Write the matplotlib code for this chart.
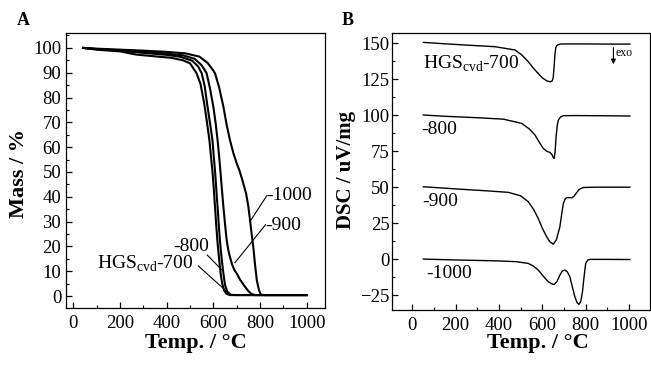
import matplotlib
matplotlib.use("Agg")
import matplotlib.pyplot as plt
from matplotlib.ticker import MultipleLocator

plt.rcParams['font.family'] = ['Liberation Serif', 'DejaVu Serif']
plt.rcParams['mathtext.fontset'] = 'custom'
plt.rcParams['mathtext.rm'] = 'Liberation Serif'

# ---- panel A: TGA mass loss ----
tga_700_x = [42, 100, 200, 270, 350, 420, 470, 500, 528, 545, 560, 572, 583, 590, 597, 602, 607, 612, 617, 624, 631, 638, 646, 655, 671, 700, 850, 1000]
tga_700_y = [100, 99.3, 98.6, 97.3, 96.6, 96.0, 95.0, 93.8, 89.8, 85.5, 78.0, 70.5, 62.9, 56.0, 49.4, 43.0, 36.0, 29.0, 22.6, 15.5, 9.1, 5.0, 2.4, 1.0, 0.4, 0.4, 0.4, 0.4]

tga_800_x = [42, 100, 200, 300, 400, 460, 510, 535, 550, 563, 575, 586, 596, 602, 608, 613, 618, 623, 628, 635, 643, 650, 660, 675, 700, 850, 1000]
tga_800_y = [100, 99.5, 98.9, 98.0, 97.2, 96.4, 94.8, 92.5, 89.8, 84.5, 76.3, 69.5, 62.9, 56.0, 49.4, 42.5, 36.0, 29.0, 22.6, 15.5, 9.1, 4.5, 1.7, 0.5, 0.4, 0.4, 0.4]

tga_900_x = [42, 100, 200, 300, 400, 470, 520, 550, 571, 586, 600, 610, 618, 625, 631, 637, 643, 650, 657, 664, 671, 680, 690, 700, 715, 736, 750, 764, 780, 850, 1000]
tga_900_y = [100, 99.5, 99.0, 98.4, 97.7, 97.0, 95.6, 93.0, 89.8, 83.5, 76.3, 69.5, 62.9, 56.0, 49.4, 42.5, 36.0, 29.0, 22.6, 18.5, 15.8, 12.8, 10.5, 9.1, 6.5, 3.7, 2.0, 0.8, 0.4, 0.4, 0.4]

tga_1000_x = [42, 100, 200, 300, 400, 480, 540, 575, 595, 607, 625, 643, 657, 671, 686, 700, 711, 724, 740, 750, 757, 764, 771, 778, 786, 795, 803, 820, 900, 1000]
tga_1000_y = [100, 99.7, 99.3, 98.9, 98.4, 97.8, 96.5, 94.0, 91.5, 89.8, 84.0, 76.3, 69.0, 62.9, 57.5, 53.5, 50.8, 46.8, 41.4, 36.0, 30.6, 25.0, 19.9, 13.0, 6.4, 2.5, 0.6, 0.4, 0.4, 0.4]

# ---- panel B: DSC ----
dsc_700_x = [51, 150, 250, 381, 474, 505, 535, 560, 581, 600, 620, 635, 645, 650, 654, 658, 662, 667, 671, 680, 700, 800, 900, 1004]
dsc_700_y = [150.7, 149.7, 148.8, 147.7, 145.4, 142.0, 137.3, 132.5, 129.1, 126.0, 124.0, 123.3, 123.8, 126.0, 133.0, 142.0, 147.0, 148.5, 148.8, 149.5, 149.6, 149.6, 149.5, 149.5]

dsc_800_x = [51, 150, 300, 420, 504, 540, 566, 585, 604, 620, 635, 645, 651, 655, 659, 664, 669, 674, 684, 697, 750, 850, 1004]
dsc_800_y = [100.2, 99.3, 98.3, 97.3, 94.4, 90.5, 86.3, 81.5, 77.0, 75.0, 74.2, 72.5, 70.5, 70.0, 75.0, 86.0, 93.0, 96.7, 98.8, 99.7, 99.8, 99.7, 99.5]

dsc_900_x = [51, 200, 350, 443, 500, 535, 560, 581, 600, 620, 635, 651, 665, 681, 690, 697, 705, 712, 722, 735, 745, 758, 770, 789, 850, 1004]
dsc_900_y = [50.3, 48.8, 47.4, 46.4, 44.0, 39.9, 34.5, 28.3, 21.5, 15.5, 12.0, 10.4, 13.5, 22.5, 32.0, 38.7, 41.8, 42.6, 42.8, 42.6, 43.5, 46.1, 48.5, 49.8, 50.0, 50.0]

dsc_1000_x = [51, 200, 381, 480, 535, 560, 581, 605, 627, 645, 655, 668, 681, 692, 704, 715, 727, 738, 750, 760, 769, 777, 785, 792, 800, 810, 820, 900, 1004]
dsc_1000_y = [0.0, -0.6, -1.2, -1.8, -3.0, -5.0, -7.6, -12.0, -15.7, -17.3, -17.6, -15.5, -11.1, -8.3, -7.6, -8.8, -12.3, -19.0, -26.2, -30.2, -31.5, -29.5, -23.0, -13.0, -3.0, -0.6, -0.2, -0.2, -0.3]

fig = plt.figure(figsize=(6.51, 3.66), dpi=100)
axA = fig.add_axes([0.1014, 0.1585, 0.3978, 0.7513])
axB = fig.add_axes([0.6017, 0.153, 0.3975, 0.7568])

for xs, ys in [(tga_700_x, tga_700_y), (tga_800_x, tga_800_y),
               (tga_900_x, tga_900_y), (tga_1000_x, tga_1000_y)]:
    axA.plot(xs, ys, color='black', lw=1.5, solid_joinstyle='round')

for xs, ys in [(dsc_700_x, dsc_700_y), (dsc_800_x, dsc_800_y),
               (dsc_900_x, dsc_900_y), (dsc_1000_x, dsc_1000_y)]:
    axB.plot(xs, ys, color='black', lw=1.0, solid_joinstyle='round')

axA.set_xlim(-31, 1078)
axA.set_ylim(-4.8, 106)
axA.set_xticks([0, 200, 400, 600, 800, 1000])
axA.set_yticks(range(0, 101, 10))
axA.xaxis.set_minor_locator(MultipleLocator(100))
axA.yaxis.set_minor_locator(MultipleLocator(5))
axA.set_ylabel('Mass / %', fontweight='bold', fontsize=16)
axA.yaxis.set_label_coords(-0.181, 0.49)
axA.tick_params(axis='y', which='both', pad=3.5)

axB.set_xlim(-95, 1099)
axB.set_ylim(-35.4, 157.2)
axB.set_xticks([0, 200, 400, 600, 800, 1000])
axB.set_yticks([-25, 0, 25, 50, 75, 100, 125, 150])
axB.xaxis.set_minor_locator(MultipleLocator(100))
axB.yaxis.set_minor_locator(MultipleLocator(12.5))
axB.set_ylabel('DSC / uV/mg', fontweight='bold', fontsize=15)
axB.yaxis.set_label_coords(-0.176, 0.505)
axB.tick_params(axis='y', which='both', pad=1.5)

for ax, xc, yc in ((axA, 0.501, -0.127), (axB, 0.563, -0.119)):
    ax.set_xlabel('Temp. / °C', fontweight='bold', fontsize=16)
    ax.xaxis.set_label_coords(xc, yc)
    ax.xaxis.label.set_va('center')
    ax.yaxis.label.set_va('center')
    ax.tick_params(which='both', direction='in', top=False, right=False,
                   labelsize=13.5)
    ax.tick_params(axis='x', which='both', pad=5)
    ax.tick_params(which='major', length=4, width=0.9)
    ax.tick_params(which='minor', length=2.5, width=0.8)
    for s in ax.spines.values():
        s.set_linewidth(0.9)

lab = dict(fontsize=14, color='black', ha='left', va='baseline')
line = dict(arrowstyle='-', color='black', lw=0.8, shrinkA=0, shrinkB=0)

# panel A labels with leader lines
axA.text(102, 11.0, r'HGS$_{\mathrm{cvd}}$-700', **lab)
axA.annotate('', xy=(672, 0.6), xytext=(535, 12.2), arrowprops=line)
axA.text(427, 18.0, '-800', **lab)
axA.annotate('', xy=(640, 10.2), xytext=(573, 16.6), arrowprops=line)
axA.text(822, 26.6, '-900', **lab)
axA.annotate('', xy=(692, 13.4), xytext=(824, 28.8), arrowprops=line)
axA.text(826, 38.7, '-1000', **lab)
axA.annotate('', xy=(760, 30.5), xytext=(830, 40.6), arrowprops=line)

# panel B labels
axB.text(48, 132.6, r'HGS$_{\mathrm{cvd}}$-700', **lab)
axB.text(43, 86.7, '-800', **lab)
axB.text(48, 37.0, '-900', **lab)
axB.text(66, -13.0, '-1000', **lab)
axB.annotate('', xy=(928, 135.5), xytext=(928, 147),
             arrowprops=dict(arrowstyle='-|>', color='black', lw=0.8,
                             mutation_scale=7, shrinkA=0, shrinkB=0))
axB.text(938, 141, 'exo', ha='left', va='baseline', fontsize=8.5)

fig.text(0.026, 0.945, 'A', fontweight='bold', fontsize=13, ha='left', va='center')
fig.text(0.525, 0.945, 'B', fontweight='bold', fontsize=13, ha='left', va='center')

fig.savefig('out.png', dpi=100)
